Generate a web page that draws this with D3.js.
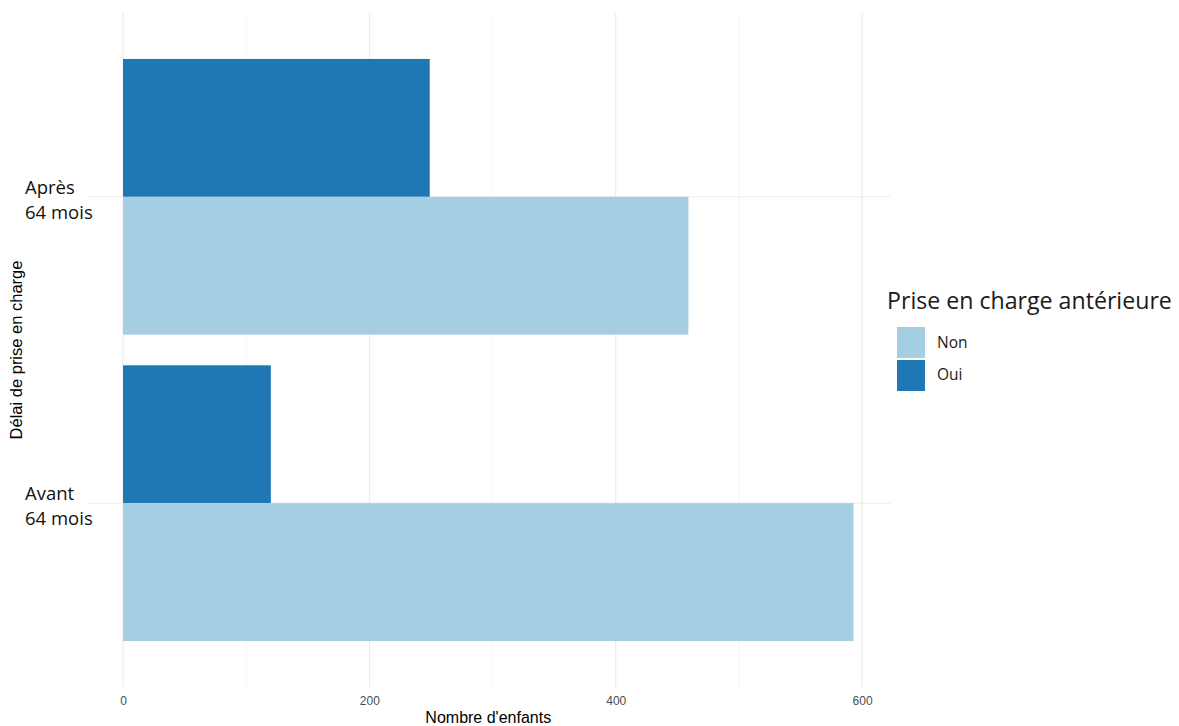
<!DOCTYPE html>
<html>
<head>
<meta charset="utf-8">
<script src="https://cdn.jsdelivr.net/npm/d3@7"></script>
<style>
  body { margin: 0; background: #fff; }
  svg { display: block; }
</style>
</head>
<body>
<svg id="chart" width="1179" height="726"></svg>
<script>
// ---- Data ----
const categories = ["Après\n64 mois", "Avant\n64 mois"];
const groups = ["Oui", "Non"];
const legendOrder = ["Non", "Oui"];
const valuesOui = [249, 120];
const valuesNon = [459, 593];
const xTicks = [0, 200, 400, 600];
const xMinor = [100, 300, 500];
const colors = { Non: "#a6cee3", Oui: "#1f78b4" };

const data = [];
categories.forEach((c, i) => {
  data.push({ cat: c, grp: "Oui", value: valuesOui[i] });
  data.push({ cat: c, grp: "Non", value: valuesNon[i] });
});

const svg = d3.select("#chart");
const panel = { left: 86.5, right: 890, top: 13, bottom: 687 };

const maxV = d3.max(data, d => d.value);
const pad = maxV * 0.05;
const x = d3.scaleLinear().domain([-pad, maxV + pad]).range([panel.left, panel.right]);
const y = d3.scaleBand().domain(categories).range([panel.top, panel.bottom])
  .paddingInner(0.1).paddingOuter(0.15);
const ySub = d3.scaleBand().domain(groups).range([0, y.bandwidth()]);

// Grid
const grid = svg.append("g");
grid.selectAll("line.minor").data(xMinor).enter().append("line")
  .attr("x1", d => x(d)).attr("x2", d => x(d))
  .attr("y1", panel.top).attr("y2", panel.bottom)
  .attr("stroke", "#f0f0f0").attr("stroke-width", 0.6);
grid.selectAll("line.major").data(xTicks).enter().append("line")
  .attr("x1", d => x(d)).attr("x2", d => x(d))
  .attr("y1", panel.top).attr("y2", panel.bottom)
  .attr("stroke", "#ebebeb").attr("stroke-width", 1.1);
grid.selectAll("line.hmajor").data(categories).enter().append("line")
  .attr("x1", panel.left).attr("x2", panel.right)
  .attr("y1", d => y(d) + y.bandwidth() / 2).attr("y2", d => y(d) + y.bandwidth() / 2)
  .attr("stroke", "#ebebeb").attr("stroke-width", 1.1);

// Bars
svg.append("g").selectAll("rect").data(data).enter().append("rect")
  .attr("x", x(0))
  .attr("y", d => y(d.cat) + ySub(d.grp))
  .attr("width", d => x(d.value) - x(0))
  .attr("height", ySub.bandwidth())
  .attr("fill", d => colors[d.grp]);

// X axis tick labels
const xAxis = d3.axisBottom(x).tickValues(xTicks).tickSize(0).tickPadding(0);
const gx = svg.append("g").attr("transform", `translate(0, ${panel.bottom + 9})`).call(xAxis);
gx.select(".domain").remove();
gx.selectAll("text").attr("font-family", "Liberation Sans, Arial, sans-serif")
  .attr("font-size", 12).attr("fill", "#4d4d4d");

// X title
svg.append("text").attr("x", (panel.left + panel.right) / 2).attr("y", 723)
  .attr("text-anchor", "middle").attr("font-family", "Liberation Sans, Arial, sans-serif")
  .attr("font-size", 16).attr("fill", "#000")
  .text("Nombre d'enfants");

// Y category labels (two lines, left-aligned)
const yl = svg.append("g");
categories.forEach(c => {
  const lines = c.split("\n");
  const cy = y(c) + y.bandwidth() / 2;
  const t = yl.append("text").attr("font-family", "Open Sans, sans-serif")
    .attr("font-size", 18.5).attr("fill", "#111");
  lines.forEach((ln, k) => {
    t.append("tspan").attr("x", 25).attr("y", cy - 3 + k * 25).text(ln);
  });
});

// Y title
svg.append("text").attr("transform", "translate(22, 350) rotate(-90)")
  .attr("text-anchor", "middle").attr("font-family", "Liberation Sans, Arial, sans-serif")
  .attr("font-size", 16.5).attr("fill", "#000")
  .text("Délai de prise en charge");

// Legend
const lg = svg.append("g");
const lt = lg.append("text").attr("x", 887).attr("y", 309)
  .attr("font-family", "Open Sans, sans-serif").attr("font-size", 24).attr("fill", "#1a1a1a")
  .text("Prise en charge antérieure");
const natural = lt.node().getComputedTextLength();
if (natural > 285) lt.attr("font-size", 24 * 285 / natural);
const keyY = d3.scaleBand().domain(legendOrder).range([327, 391]).paddingInner(0.06);
legendOrder.forEach(g => {
  lg.append("rect").attr("x", 897).attr("y", keyY(g)).attr("width", 28)
    .attr("height", keyY.bandwidth()).attr("fill", colors[g]);
  lg.append("text").attr("x", 937).attr("y", keyY(g) + keyY.bandwidth() / 2 + 5)
    .attr("font-family", "Open Sans, sans-serif").attr("font-size", 15.5).attr("fill", "#1a1a1a")
    .text(g);
});
</script>
</body>
</html>
